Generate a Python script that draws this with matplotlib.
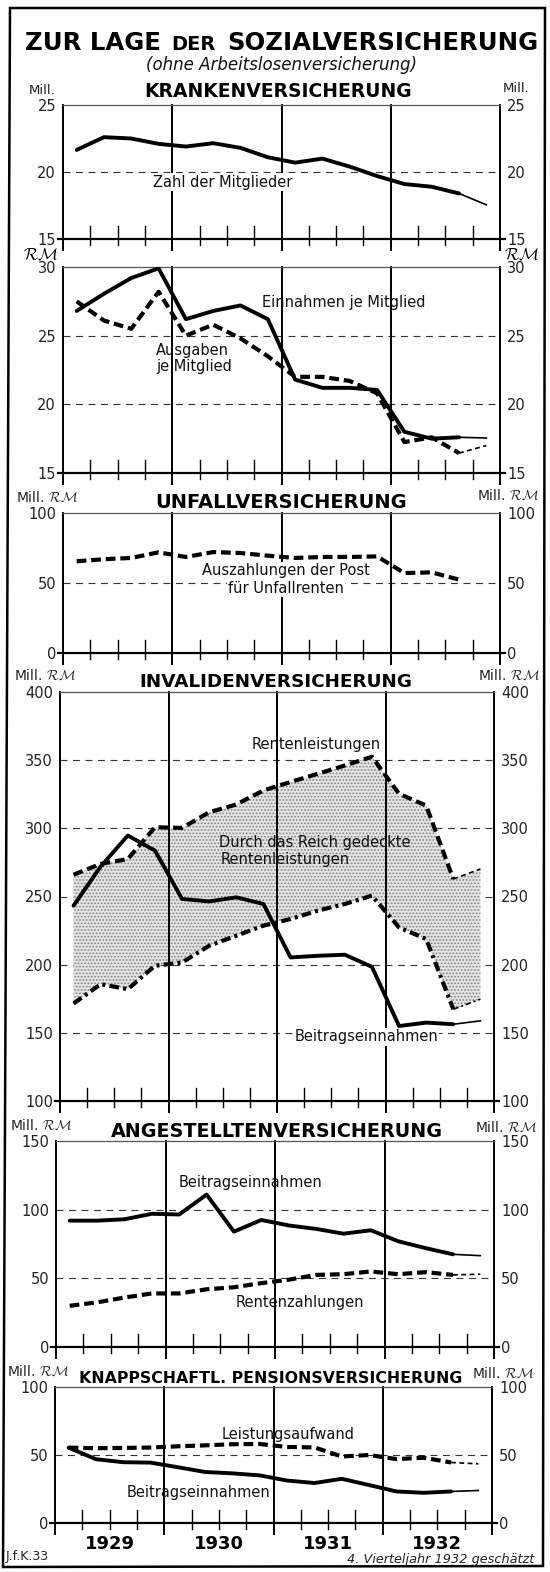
import numpy as np
import matplotlib
matplotlib.use('Agg')
import matplotlib.pyplot as plt
from matplotlib.patches import Polygon

plt.rcParams['font.family'] = ['DejaVu Sans']
plt.rcParams['mathtext.fontset'] = 'cm'
plt.rcParams['lines.scale_dashes'] = False
plt.rcParams['hatch.linewidth'] = 0.8

# ---------------- data (quarterly values, 1929 Q1 .. 1932 Q4) ----------------
years = ['1929', '1930', '1931', '1932']
n_quarters = 16

kv_mitglieder = [21.65, 22.6, 22.5, 22.1, 21.9, 22.15, 21.8, 21.1,
                 20.7, 21.0, 20.4, 19.7, 19.1, 18.9, 18.4, 17.55]
kv_einnahmen = [26.8, 28.05, 29.2, 29.9, 26.2, 26.8, 27.2, 26.2,
                21.8, 21.2, 21.2, 21.05, 18.0, 17.5, 17.6, 17.55]
kv_ausgaben = [27.5, 26.1, 25.5, 28.2, 25.0, 25.8, 24.8, 23.5,
               22.0, 22.0, 21.7, 20.8, 17.25, 17.6, 16.45, 17.0]

uv_auszahlungen = [65.5, 67.0, 67.9, 71.9, 68.6, 72.1, 71.4, 69.5,
                   67.9, 68.6, 68.6, 69.0, 57.1, 57.6, 52.4, np.nan]

iv_renten = [266.0, 273.9, 277.5, 300.8, 300.3, 311.8, 317.5, 327.8,
             334.0, 340.0, 346.1, 352.5, 325.3, 316.7, 262.8, 270.2]
iv_renten_eigen = [171.5, 185.7, 182.0, 199.2, 201.6, 213.9, 221.2, 228.6,
                   233.5, 239.6, 244.5, 250.6, 227.3, 218.8, 167.3, 174.7]
iv_beitrag = [243.3, 272.0, 294.7, 283.7, 248.2, 246.4, 249.4, 244.5,
              205.3, 206.5, 207.3, 198.4, 155.0, 157.5, 156.3, 158.8]

av_beitrag = [92.0, 92.0, 93.0, 97.0, 96.5, 111.0, 84.0, 92.5,
              88.5, 86.0, 82.5, 85.0, 77.0, 72.0, 67.5, 66.5]
av_renten = [30.0, 32.5, 36.0, 39.0, 39.0, 42.0, 43.5, 46.5,
             49.0, 52.5, 53.0, 55.0, 53.0, 54.5, 52.5, 53.0]

kn_leistung = [55.4, 55.0, 55.2, 55.5, 56.4, 57.1, 57.9, 58.1,
               55.9, 55.6, 48.9, 50.0, 47.0, 48.0, 44.5, 43.5]
kn_beitrag = [55.4, 46.9, 44.7, 44.4, 41.0, 37.5, 36.5, 35.0,
              31.2, 29.4, 32.5, 27.9, 23.2, 22.2, 23.2, 23.9]

# ---------------- figure ----------------
W, H = 550, 1572
fig = plt.figure(figsize=(W / 100, H / 100), dpi=100)
renderer = fig.canvas.get_renderer()
quarters = np.arange(n_quarters) + 0.5


def fx(x):
    return x / W


def fy(y):
    return 1 - y / H


def add_panel(left, right, top, bottom, ymin, ymax, yticks, grid):
    ax = fig.add_axes([fx(left), fy(bottom), (right - left) / W, (bottom - top) / H])
    ax.set_xlim(0, n_quarters)
    ax.set_ylim(ymin, ymax)
    h = bottom - top
    for s in ['left', 'right', 'bottom']:
        ax.spines[s].set_visible(False)
    ax.spines['top'].set_linewidth(0.9)
    ax.spines['top'].set_color('#555555')
    ext = 11 / h
    for xv in [0, 4, 8, 12, 16]:
        ax.axvline(xv, ymin=-ext, ymax=1, color='k', lw=1.4, clip_on=False, zorder=2)
    ax.axhline(ymin, xmin=-0.012, xmax=1.012, color='k', lw=1.6, clip_on=False, zorder=2)
    up, down = 13 / h, 6 / h
    for xv in [1, 2, 3, 5, 6, 7, 9, 10, 11, 13, 14, 15]:
        ax.axvline(xv, ymin=-down, ymax=up, color='k', lw=1.0, clip_on=False, zorder=2)
    for g in grid:
        ax.axhline(g, color='#333333', lw=0.8, dashes=(5, 4), zorder=1)
    ax.set_xticks([])
    ax.set_yticks(yticks)
    ax.set_yticklabels([str(v) for v in yticks])
    ax.tick_params(axis='y', length=0, pad=5, labelsize=10.5, labelleft=True,
                   labelright=True, colors='#222222')
    ax.patch.set_alpha(0)
    return ax


THICK = {
    'solid': dict(lw=2.8, linestyle='-', solid_capstyle='round', solid_joinstyle='round'),
    'dash': dict(lw=3.0, linestyle=(0, (7, 3.5))),
    'dashdot': dict(lw=3.0, linestyle=(0, (7, 3, 2.2, 3))),
}
THIN = {
    'solid': dict(lw=1.2, linestyle='-'),
    'dash': dict(lw=1.2, linestyle=(0, (3.5, 2.5))),
    'dashdot': dict(lw=1.2, linestyle=(0, (4, 2, 1.5, 2))),
}


def draw(ax, values, kind, thick_end=14):
    y = np.asarray(values, dtype=float)
    k = thick_end
    ax.plot(quarters[:k + 1], y[:k + 1], color='k', zorder=3, **THICK[kind])
    ax.plot(quarters[k:], y[k:], color='k', zorder=3, **THIN[kind])


def ftext(x, y, s, **kw):
    return fig.text(fx(x), fy(y), s, **kw)


def atext(ax, x, y, s, white=False, **kw):
    kw.setdefault('fontsize', 10.5)
    kw.setdefault('color', '#111111')
    bbox = dict(fc='white', ec='none', pad=1.0) if white else None
    return ax.text(fx(x), fy(y), s, transform=fig.transFigure, zorder=2.5,
                   bbox=bbox, **kw)


def fit(t, target_w):
    bb = t.get_window_extent(renderer)
    t.set_fontsize(t.get_fontsize() * target_w / bb.width)


RM = r'$\mathcal{RM}$'

# ---------------- main title ----------------
fs0 = 16
t1 = ftext(25, 50, 'ZUR LAGE', fontsize=fs0, weight='bold', va='baseline', ha='left')
t2 = ftext(200, 50, 'DER', fontsize=fs0 * 0.8, weight='bold', va='baseline', ha='left')
t3 = ftext(290, 50, 'SOZIALVERSICHERUNG', fontsize=fs0, weight='bold', va='baseline', ha='left')
w = [t.get_window_extent(renderer).width for t in (t1, t2, t3)]
gap = 0.45 * fs0 * 100 / 72
scale = 512 / (sum(w) + 2 * gap)
for t in (t1, t2, t3):
    t.set_fontsize(t.get_fontsize() * scale)
x2 = 25 + (w[0] + gap) * scale
x3 = x2 + (w[1] + gap) * scale
t2.set_x(fx(x2))
t3.set_x(fx(x3))

ftext(282, 70, '(ohne Arbeitslosenversicherung)', fontsize=12, style='italic',
      ha='center', va='baseline', color='#111111')

# ---------------- Panel 1: Krankenversicherung, Mitglieder ----------------
ax1 = add_panel(63, 500, 105, 239, 15, 25, [15, 20, 25], [20])
draw(ax1, kv_mitglieder, 'solid')
fit(ftext(278, 97, 'KRANKENVERSICHERUNG', fontsize=13, weight='bold', ha='center',
          va='baseline'), 265)
ftext(42, 90, 'Mill.', fontsize=9.5, ha='center', va='center', color='#222222')
ftext(516, 88, 'Mill.', fontsize=9.5, ha='center', va='center', color='#222222')
atext(ax1, 223, 182, 'Zahl der Mitglieder', white=True, ha='center', va='center')

# ---------------- Panel 2: Krankenversicherung, RM je Mitglied ----------------
ax2 = add_panel(63, 500, 267, 473, 15, 30, [15, 20, 25, 30], [20, 25])
draw(ax2, kv_einnahmen, 'solid')
draw(ax2, kv_ausgaben, 'dash')
ftext(40, 255, RM, fontsize=12, ha='center', va='center')
ftext(521, 255, RM, fontsize=12, ha='center', va='center')
atext(ax2, 344, 303, 'Einnahmen je Mitglied', ha='center', va='center')
atext(ax2, 156, 350, 'Ausgaben', ha='left', va='center')
atext(ax2, 156, 367, 'je Mitglied', ha='left', va='center')

# ---------------- Panel 3: Unfallversicherung ----------------
ax3 = add_panel(63, 500, 513, 653, 0, 100, [0, 50, 100], [50])
draw(ax3, uv_auszahlungen, 'dash')
fit(ftext(281, 508, 'UNFALLVERSICHERUNG', fontsize=13, weight='bold', ha='center',
          va='baseline'), 251)
ftext(16, 497, 'Mill. ' + RM, fontsize=10, ha='left', va='center', color='#222222')
ftext(477, 496, 'Mill. ' + RM, fontsize=10, ha='left', va='center', color='#222222')
atext(ax3, 286, 571, 'Auszahlungen der Post', white=True, ha='center', va='center')
atext(ax3, 286, 588, 'für Unfallrenten', white=True, ha='center', va='center')

# ---------------- Panel 4: Invalidenversicherung ----------------
ax4 = add_panel(60, 494, 692, 1101, 100, 400, [100, 150, 200, 250, 300, 350, 400],
                [150, 200, 250, 300, 350])
ax4.fill_between(quarters, iv_renten_eigen, iv_renten, facecolor='#e4e4e4',
                 edgecolor='#808080', hatch='.....', lw=0, zorder=1.5)
draw(ax4, iv_renten, 'dash')
draw(ax4, iv_renten_eigen, 'dashdot')
draw(ax4, iv_beitrag, 'solid')
fit(ftext(276, 687, 'INVALIDENVERSICHERUNG', fontsize=13, weight='bold', ha='center',
          va='baseline'), 272)
ftext(14, 675, 'Mill. ' + RM, fontsize=10, ha='left', va='center', color='#222222')
ftext(478, 676, 'Mill. ' + RM, fontsize=10, ha='left', va='center', color='#222222')
atext(ax4, 316, 745, 'Rentenleistungen', ha='center', va='center')
atext(ax4, 219, 843, 'Durch das Reich gedeckte', ha='left', va='center')
atext(ax4, 221, 860, 'Rentenleistungen', ha='left', va='center')
atext(ax4, 366, 1037, 'Beitragseinnahmen', white=True, ha='center', va='center')

# ---------------- Panel 5: Angestelltenversicherung ----------------
ax5 = add_panel(56, 494, 1141, 1347, 0, 150, [0, 50, 100, 150], [50, 100])
draw(ax5, av_beitrag, 'solid')
draw(ax5, av_renten, 'dash')
fit(ftext(277, 1137, 'ANGESTELLTENVERSICHERUNG', fontsize=13, weight='bold',
          ha='center', va='baseline'), 330)
ftext(10, 1125, 'Mill. ' + RM, fontsize=10, ha='left', va='center', color='#222222')
ftext(475, 1128, 'Mill. ' + RM, fontsize=10, ha='left', va='center', color='#222222')
atext(ax5, 250, 1183, 'Beitragseinnahmen', ha='center', va='center')
atext(ax5, 300, 1302, 'Rentenzahlungen', ha='center', va='center')

# ---------------- Panel 6: Knappschaftliche Pensionsversicherung ----------------
ax6 = add_panel(55, 492, 1387, 1523, 0, 100, [0, 50, 100], [50])
draw(ax6, kn_leistung, 'dash')
draw(ax6, kn_beitrag, 'solid')
fit(ftext(271, 1383, 'KNAPPSCHAFTL. PENSIONSVERSICHERUNG', fontsize=13, weight='bold',
          ha='center', va='baseline'), 378)
ftext(7, 1372, 'Mill. ' + RM, fontsize=10, ha='left', va='center', color='#222222')
ftext(472, 1374, 'Mill. ' + RM, fontsize=10, ha='left', va='center', color='#222222')
atext(ax6, 288, 1435, 'Leistungsaufwand', ha='center', va='center')
atext(ax6, 199, 1493, 'Beitragseinnahmen', ha='center', va='center')

# year labels under the last panel
for i, yr in enumerate(years):
    ax6.text(i * 4 + 2, -0.09, yr, transform=ax6.get_xaxis_transform(), ha='center',
             va='top', fontsize=13, weight='bold')

ftext(6, 1560, 'J.f.K.33', fontsize=9, ha='left', va='baseline', color='#222222')
fit(ftext(441, 1563, '4. Vierteljahr 1932 geschätzt', fontsize=9, style='italic',
          ha='center', va='baseline', color='#222222'), 188)

# outer frame (slightly skewed, as in the scanned original)
frame = [(10, 8), (545, 8), (543, 1566), (3, 1567)]
fig.patches.append(Polygon([(fx(a), fy(b)) for a, b in frame], closed=True,
                           transform=fig.transFigure, fill=False, lw=1.8,
                           edgecolor='k'))

fig.savefig('out.png', dpi=100, facecolor='white')
